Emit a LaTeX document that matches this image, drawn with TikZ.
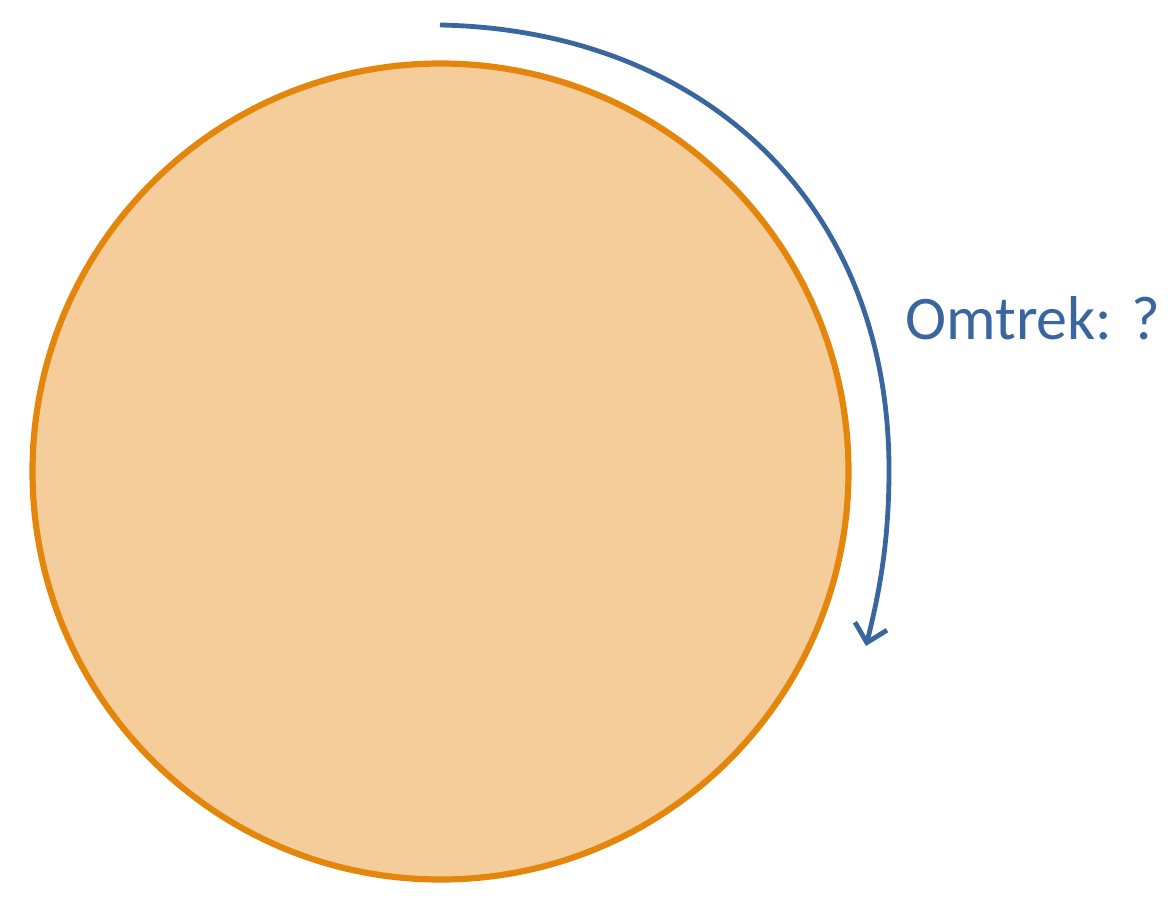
\documentclass[tikz,border=0pt]{standalone}
\usepackage{fontspec}
\setmainfont{Carlito}
\usetikzlibrary{arrows.meta}
\definecolor{ringorange}{HTML}{E3860B}
\definecolor{fillorange}{HTML}{F4CD9A}
\definecolor{arcblue}{HTML}{3A66A0}
\tikzset{
  disc/.style={draw=ringorange, fill=fillorange, line width=6.2pt},
  perimarrow/.style={draw=arcblue, line width=4.8pt, -{Straight Barb[length=17pt,width=33pt,line width=4.8pt]}},
  lbl/.style={text=arcblue, font=\fontsize{62}{74}\selectfont, inner sep=0pt, anchor=base west}
}
\begin{document}
\begin{tikzpicture}[x=1pt,y=-1pt]
\useasboundingbox (0,0) rectangle (1170,906);
\node[disc, circle, minimum size=816pt, inner sep=0pt] (c) at (440.5,471.5) {};
\coordinate (s) at (440,25);
\coordinate (m) at (889,470);
\coordinate (e) at (866,646);
\draw[perimarrow] (s) .. controls (700,30) and (889,200) .. (m) .. controls (889,540) and (880,590) .. (e);
\node[lbl] (t) at (905,339) {Omtrek: ?};
\end{tikzpicture}
\end{document}
